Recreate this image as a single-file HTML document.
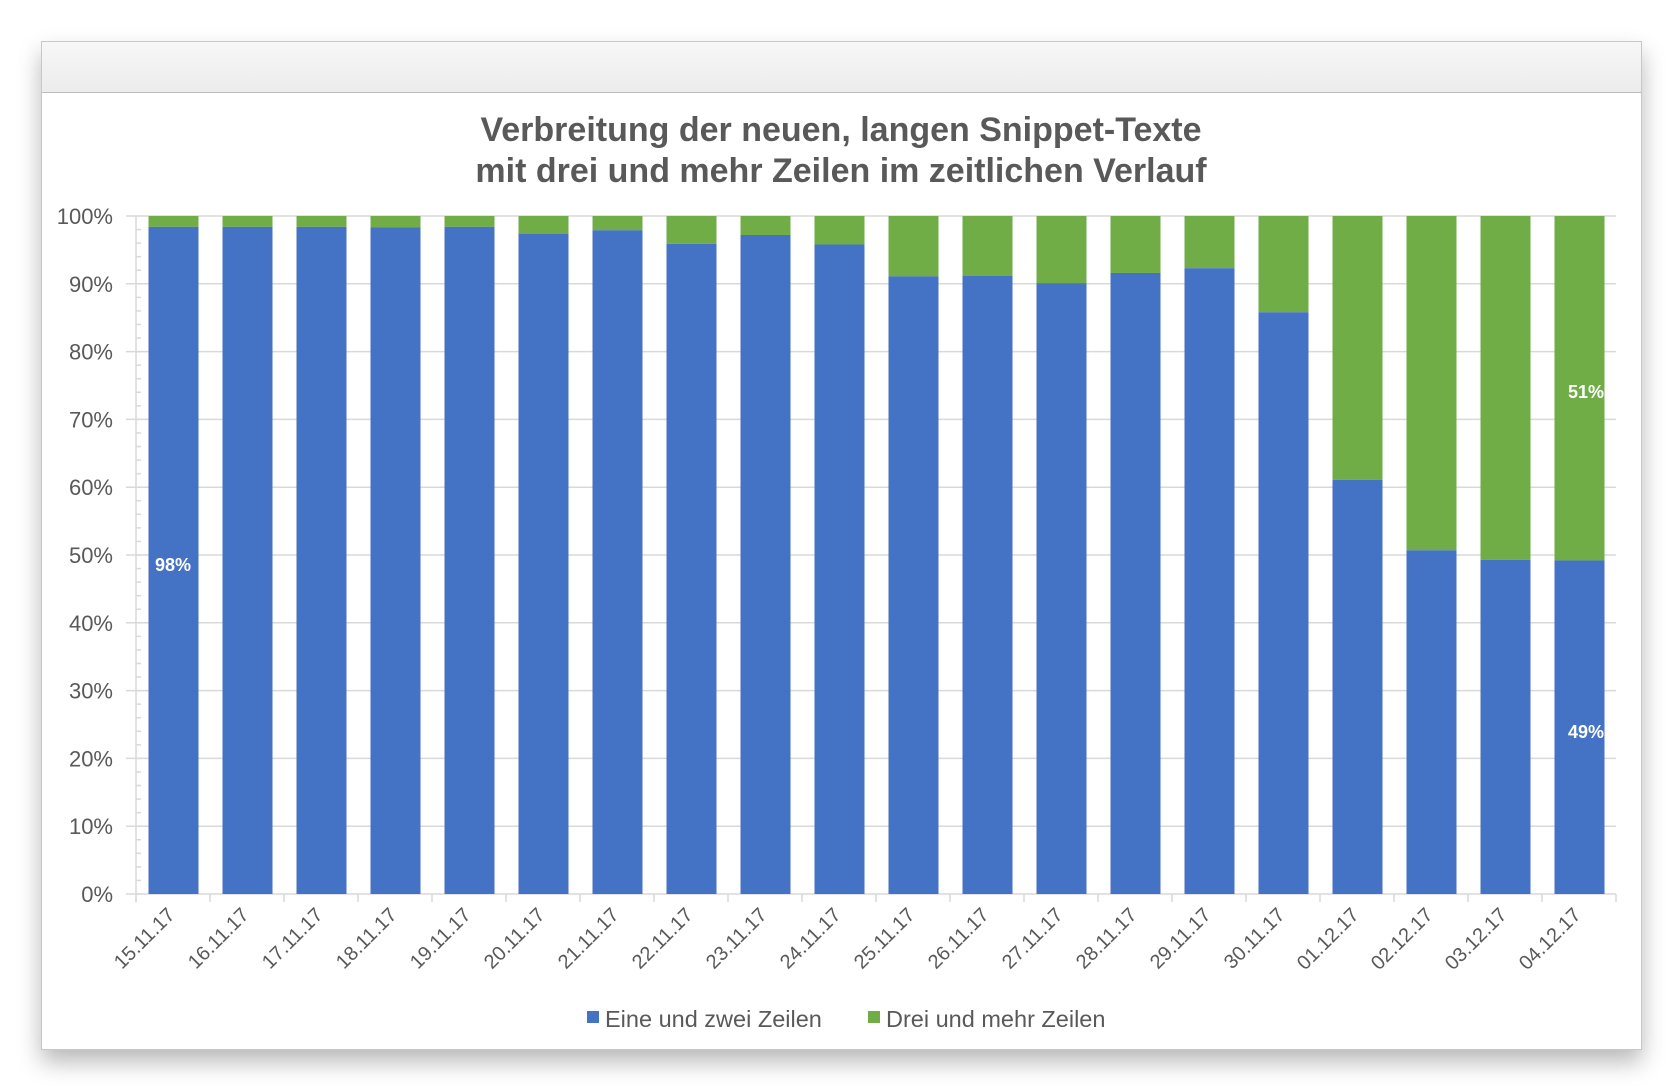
<!DOCTYPE html>
<html><head><meta charset="utf-8"><style>
html,body{margin:0;padding:0;background:#fff;}
body{width:1680px;height:1090px;overflow:hidden;position:relative;font-family:"Liberation Sans",sans-serif;}
.panel{position:absolute;left:41px;top:41px;width:1599px;height:1007px;background:#fff;border:1px solid #c8c8c8;box-shadow:0 12px 22px rgba(0,0,0,0.28);}
.hdr{position:absolute;left:0;top:0;right:0;height:50px;background:linear-gradient(#f7f7f7,#ececec);border-bottom:1px solid #bdbdbd;}
svg{position:absolute;left:0;top:0;}
</style></head><body>
<div class="panel"><div class="hdr"></div></div>
<svg width="1680" height="1090" xmlns="http://www.w3.org/2000/svg" font-family="Liberation Sans, sans-serif">
<text x="841" y="141" text-anchor="middle" font-size="34" font-weight="bold" fill="#595959">Verbreitung der neuen, langen Snippet-Texte</text>
<text x="841" y="182" text-anchor="middle" font-size="34" font-weight="bold" fill="#595959">mit drei und mehr Zeilen im zeitlichen Verlauf</text>
<g id="grid" stroke="#d9d9d9" stroke-width="1.5"></g>
<g id="ylab" font-size="22" fill="#595959" text-anchor="end"></g>
<g id="bars"></g>
<g id="xlab" font-size="20" fill="#595959" text-anchor="end"></g>
<text x="173" y="571" text-anchor="middle" font-size="18" font-weight="bold" fill="#fff">98%</text>
<text x="1586" y="398" text-anchor="middle" font-size="18" font-weight="bold" fill="#fff">51%</text>
<text x="1586" y="738" text-anchor="middle" font-size="18" font-weight="bold" fill="#fff">49%</text>
<rect x="587" y="1011" width="12" height="12" fill="#4472c4"/>
<text x="605" y="1027" font-size="23.5" fill="#595959">Eine und zwei Zeilen</text>
<rect x="868" y="1011" width="12" height="12" fill="#70ad47"/>
<text x="886" y="1027" font-size="23.5" fill="#595959">Drei und mehr Zeilen</text>
</svg>
<script>
var ns="http://www.w3.org/2000/svg";
function el(p,t,a,txt){var e=document.createElementNS(ns,t);for(var k in a)e.setAttribute(k,a[k]);if(txt)e.textContent=txt;document.getElementById(p).appendChild(e);}
var y0=894,y100=216,L=136,R=1616,pitch=(R-L)/20;
function Y(v){return y0-(y0-y100)*v/100;}
for(var i=0;i<=10;i++){var y=Y(i*10);el("grid","line",{x1:126,x2:R,y1:y,y2:y});el("ylab","text",{x:113,y:y+8},(i*10)+"%");}
for(var i=0;i<50;i++){var y=Y(i*2);el("grid","line",{x1:L,x2:L+5,y1:y,y2:y});}
el("grid","line",{x1:L,x2:L,y1:y100,y2:y0+8});
for(var i=0;i<=20;i++){var x=L+i*pitch;el("grid","line",{x1:x,x2:x,y1:y0,y2:y0+8});}
var v=[98.4,98.4,98.4,98.3,98.4,97.4,97.9,95.9,97.2,95.8,91.1,91.2,90.1,91.6,92.3,85.8,61.1,50.7,49.3,49.2];
var d=["15.11.17","16.11.17","17.11.17","18.11.17","19.11.17","20.11.17","21.11.17","22.11.17","23.11.17","24.11.17","25.11.17","26.11.17","27.11.17","28.11.17","29.11.17","30.11.17","01.12.17","02.12.17","03.12.17","04.12.17"];
for(var i=0;i<20;i++){var x=L+i*pitch+12.5,w=50;
el("bars","rect",{x:x,y:y100,width:w,height:Y(v[i])-y100,fill:"#70ad47"});
el("bars","rect",{x:x,y:Y(v[i]),width:w,height:y0-Y(v[i]),fill:"#4472c4"});
var cx=L+i*pitch+pitch/2+3;el("xlab","text",{x:cx,y:916,transform:"rotate(-45 "+cx+" 916)"},d[i]);}
</script>
</body></html>
